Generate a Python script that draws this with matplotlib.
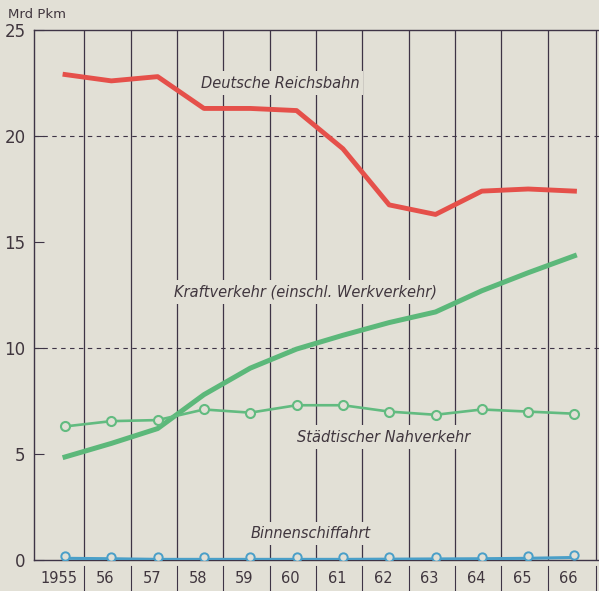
import matplotlib
matplotlib.use("Agg")
import matplotlib.pyplot as plt
import matplotlib.transforms as mtransforms
import numpy as np

years = ["1955", "56", "57", "58", "59", "60", "61", "62", "63", "64", "65", "66"]
reichsbahn = [22.9, 22.6, 22.8, 21.3, 21.3, 21.2, 19.4, 16.75, 16.3, 17.4, 17.5, 17.4]
kraftverkehr = [4.86, 5.5, 6.2, 7.8, 9.05, 9.95, 10.6, 11.2, 11.7, 12.7, 13.55, 14.35]
nahverkehr = [6.3, 6.55, 6.6, 7.1, 6.95, 7.3, 7.3, 7.0, 6.85, 7.1, 7.0, 6.9]
binnen = [0.08, 0.06, 0.03, 0.03, 0.03, 0.03, 0.03, 0.04, 0.05, 0.06, 0.08, 0.12]
yticks = [0, 5, 10, 15, 20, 25]

bg = "#e2e0d6"
gridc = "#3e3446"
textc = "#40363e"

fig = plt.figure(figsize=(5.99, 5.91), dpi=100, facecolor=bg)
ax = fig.add_axes([34/599, 31/591, 565/599, 530/591], facecolor=bg)
x = np.arange(len(years))

ax.set_xlim(-0.67, 11.53)
ax.set_ylim(0, 25)

# vertical grid lines between years
for i in range(len(years)):
    xv = i + 0.42 if i < len(years) - 1 else 11.47
    ax.plot([xv, xv], [0, 25], color=gridc, lw=0.9, zorder=1)
    ax.plot([xv, xv], [-0.3, -1.45], color=gridc, lw=0.8, zorder=1, clip_on=False)

for yv in (10, 20):
    ax.plot([-0.67, 11.53], [yv, yv], color=gridc, lw=0.8, dashes=(4, 4), zorder=1)

ax.plot(x, reichsbahn, color="#e5504a", lw=3.5, zorder=3, solid_joinstyle="round")
ax.plot(x, kraftverkehr, color="#5cb87a", lw=3.6, zorder=3, solid_joinstyle="round")
ax.plot(x, nahverkehr, color="#62bb80", lw=1.9, marker="o", ms=6.5, mfc=bg,
        mec="#62bb80", mew=1.5, zorder=4)
ax.plot(x, binnen, color="#4a9fc8", lw=2.2, zorder=4)
ax.plot(x, [b + 0.1 for b in binnen], ls="none", marker="o", ms=6, mfc=bg,
        mec="#4a9fc8", mew=1.4, zorder=5)

lab = dict(style="italic", fontsize=10.5, color=textc, ha="center", va="center",
           zorder=2, bbox=dict(facecolor=bg, edgecolor=bg, lw=0, pad=3))
ax.text(4.64, 22.5, "Deutsche Reichsbahn", **lab)
ax.text(5.2, 12.64, "Kraftverkehr (einschl. Werkverkehr)", **lab)
ax.text(6.87, 5.8, "Städtischer Nahverkehr", **lab)
ax.text(5.3, 1.25, "Binnenschiffahrt", **lab)

ax.spines["right"].set_visible(False)
for s in ("left", "top", "bottom"):
    ax.spines[s].set_color(gridc)
    ax.spines[s].set_linewidth(1.0)

ax.set_yticks(yticks)
ax.set_yticklabels([str(v) for v in yticks], fontsize=12, color=textc)
ax.tick_params(axis="y", direction="in", length=7, color=gridc, pad=6)
ax.set_xticks(x)
ax.set_xticklabels(years, fontsize=10.5, color=textc)
ax.tick_params(axis="x", length=0, pad=8)
offset = mtransforms.ScaledTranslation(-6/100, 0, fig.dpi_scale_trans)
for t in ax.get_xticklabels():
    t.set_transform(t.get_transform() + offset)

fig.text(8/599, 1 - 14/591, "Mrd Pkm", fontsize=9.5, color=textc, va="center", ha="left")

fig.savefig("out.png", dpi=100, facecolor=bg)
